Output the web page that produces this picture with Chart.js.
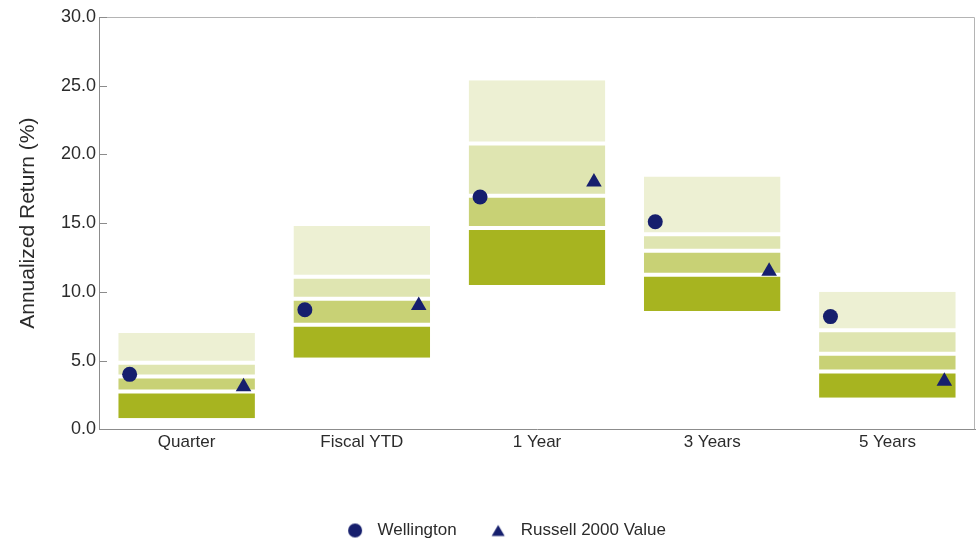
<!DOCTYPE html>
<html>
<head>
<meta charset="utf-8">
<script src="https://cdn.jsdelivr.net/npm/chart.js@4.4.1/dist/chart.umd.min.js"></script>
<style>
  html, body { margin: 0; padding: 0; background: #ffffff; }
  #wrap { width: 976px; height: 543px; }
</style>
</head>
<body>
<div id="wrap"><canvas id="c" width="976" height="543"></canvas></div>
<script>
// Peer-universe percentile ranges (annualized return, %)
const categories = ['Quarter', 'Fiscal YTD', '1 Year', '3 Years', '5 Years'];
const p5  = [7.0, 14.8, 25.4, 18.4, 10.0];
const p25 = [4.85, 11.1, 20.8, 14.2, 7.2];
const p50 = [3.85, 9.5, 17.0, 13.0, 5.5];
const p75 = [2.75, 7.6, 14.65, 11.25, 4.2];
const p95 = [0.8, 5.2, 10.5, 8.6, 2.3];

// Portfolio and benchmark returns
const wellington = [4.0, 8.7, 16.9, 15.1, 8.2];
const russell = [3.1, 9.0, 18.0, 11.5, 3.5];

const yTicks = [0, 5, 10, 15, 20, 25, 30];

const NAVY = '#161f6d';
const bandColors = ['#edf0d3', '#dfe5b1', '#c8d175', '#a7b420'];

// Markers sit at the left / right edge of each range bar
const MARK_SHIFT = 0.325;

function band(lo, hi, idx, color) {
  const last = idx === 3;
  const first = idx === 0;
  return {
    type: 'bar',
    label: 'band' + idx,
    data: categories.map((_, i) => [lo[i], hi[i]]),
    backgroundColor: color,
    borderColor: '#ffffff',
    borderWidth: { top: first ? 0 : 2, bottom: last ? 0 : 2, left: 0, right: 0 },
    borderSkipped: false,
    grouped: false,
    barPercentage: 0.78,
    categoryPercentage: 1.0,
    xAxisID: 'x',
    order: 2
  };
}

// Small canvas icons for the legend markers
function legendIcon(kind) {
  const c = document.createElement('canvas');
  c.width = 16; c.height = 16;
  const g = c.getContext('2d');
  g.fillStyle = NAVY;
  g.beginPath();
  if (kind === 'circle') {
    g.arc(8, 8, 7, 0, Math.PI * 2);
  } else {
    g.moveTo(8, 2.5);
    g.lineTo(14.5, 13.5);
    g.lineTo(1.5, 13.5);
    g.closePath();
  }
  g.fill();
  return c;
}
const legendIcons = { 'Wellington': legendIcon('circle'), 'Russell 2000 Value': legendIcon('triangle') };

const LEGEND_DX = 16;
const LEGEND_DY = 6;

// Light frame round the plot, thin inward ticks on the value axis, legend placement
const framePlugin = {
  id: 'frame',
  afterLayout(chart) {
    const lg = chart.legend;
    if (lg) {
      lg.left += LEGEND_DX; lg.right += LEGEND_DX;
      lg.top += LEGEND_DY; lg.bottom += LEGEND_DY;
    }
  },
  afterDraw(chart) {
    const { ctx, chartArea: a, scales } = chart;
    ctx.save();
    ctx.strokeStyle = '#b4b4b4';
    ctx.lineWidth = 1;
    ctx.beginPath();
    ctx.moveTo(a.left, a.top + 0.5);
    ctx.lineTo(a.right - 0.5, a.top + 0.5);
    ctx.lineTo(a.right - 0.5, a.bottom);
    ctx.stroke();
    ctx.strokeStyle = '#8c8c8c';
    ctx.beginPath();
    yTicks.forEach(v => {
      const py = Math.round(scales.y.getPixelForValue(v)) + 0.5;
      ctx.moveTo(a.left, py);
      ctx.lineTo(a.left + 8, py);
    });
    ctx.stroke();
    ctx.restore();
  }
};

const datasets = [
  {
    type: 'line',
    label: 'Wellington',
    data: wellington.map((v, i) => ({ x: i - MARK_SHIFT, y: v })),
    xAxisID: 'xp',
    showLine: false,
    pointStyle: 'circle',
    pointRadius: 7.5,
    pointHoverRadius: 7.5,
    pointBackgroundColor: NAVY,
    pointBorderColor: NAVY,
    backgroundColor: NAVY,
    borderColor: NAVY,
    pointBorderWidth: 0,
    order: 0
  },
  {
    type: 'line',
    label: 'Russell 2000 Value',
    data: russell.map((v, i) => ({ x: i + MARK_SHIFT, y: v })),
    xAxisID: 'xp',
    showLine: false,
    pointStyle: 'triangle',
    pointRadius: 9,
    pointHoverRadius: 9,
    pointBackgroundColor: NAVY,
    pointBorderColor: NAVY,
    backgroundColor: NAVY,
    borderColor: NAVY,
    pointBorderWidth: 0,
    order: 0
  },
  band(p25, p5, 0, bandColors[0]),
  band(p50, p25, 1, bandColors[1]),
  band(p75, p50, 2, bandColors[2]),
  band(p95, p75, 3, bandColors[3])
];

const FONT = "'Liberation Sans', Arial, sans-serif";

new Chart(document.getElementById('c'), {
  type: 'bar',
  data: { labels: categories, datasets },
  plugins: [framePlugin],
  options: {
    responsive: false,
    animation: false,
    events: [],
    layout: { autoPadding: false, padding: { top: 17, right: 1, left: 0, bottom: 0 } },
    plugins: {
      tooltip: { enabled: false },
      title: { display: false },
      legend: {
        position: 'bottom',
        labels: {
          usePointStyle: true,
          pointStyleWidth: 28,
          boxHeight: 14,
          padding: 27.5,
          color: '#2b2b2b',
          font: { family: FONT, size: 17 },
          filter: item => item.text in legendIcons,
          generateLabels(chart) {
            const items = Chart.defaults.plugins.legend.labels.generateLabels(chart);
            items.forEach(it => { if (legendIcons[it.text]) it.pointStyle = legendIcons[it.text]; });
            return items;
          }
        }
      }
    },
    scales: {
      x: {
        type: 'category',
        offset: true,
        grid: { display: false, drawTicks: false },
        border: { display: true, color: '#8c8c8c', width: 1 },
        ticks: { color: '#2b2b2b', font: { family: FONT, size: 17 }, padding: 3 },
        afterFit(scale) { scale.height = 59.2; }
      },
      xp: {
        type: 'linear',
        display: false,
        offset: false,
        grid: { offset: false },
        min: -0.5,
        max: 4.5
      },
      y: {
        type: 'linear',
        min: 0,
        max: 30,
        afterBuildTicks(scale) { scale.ticks = yTicks.map(v => ({ value: v })); },
        grid: { display: false, drawTicks: false },
        border: { display: true, color: '#8c8c8c', width: 1 },
        ticks: {
          color: '#2b2b2b',
          font: { family: FONT, size: 18 },
          padding: 3,
          callback: v => Number(v).toFixed(1)
        },
        title: {
          display: true,
          text: 'Annualized Return (%)',
          color: '#2b2b2b',
          font: { family: FONT, size: 21 },
          padding: { top: 16, bottom: 0 }
        },
        afterFit(scale) { scale.width = 99; }
      }
    }
  }
});
</script>
</body>
</html>
